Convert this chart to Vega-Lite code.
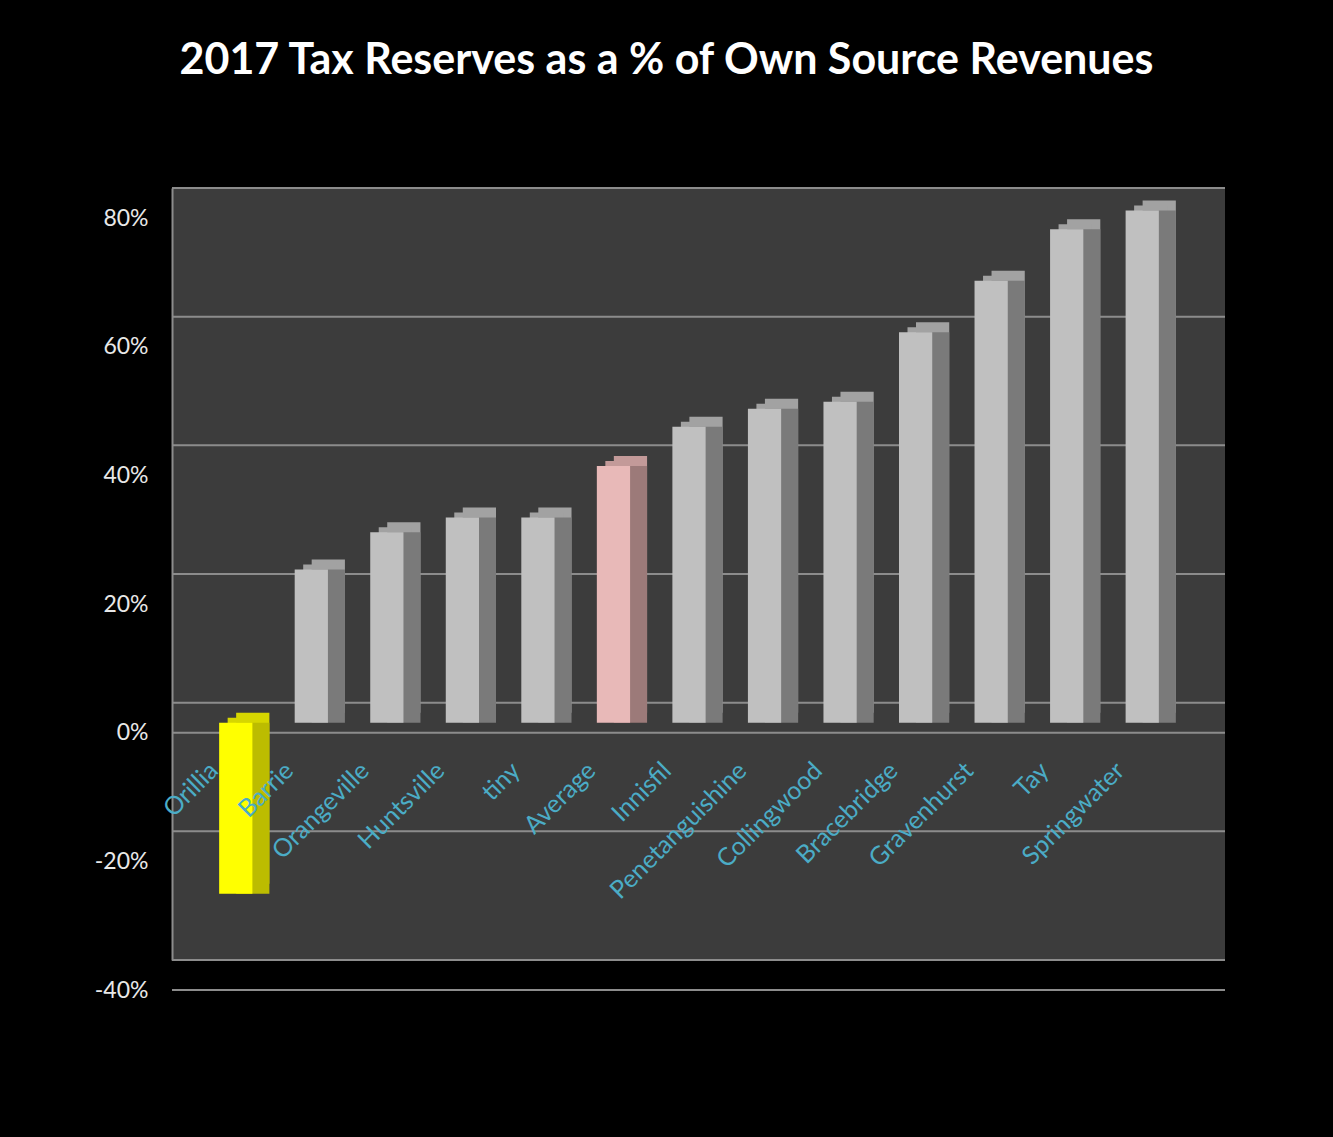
{
  "$schema": "https://vega.github.io/schema/vega-lite/v6.json",
  "autosize": {"type": "none"},
  "padding": {"left": 172, "top": 188, "right": 108, "bottom": 177},
  "width": 1053,
  "height": 772,
  "background": "#000000",
  "title": {
    "text": "2017 Tax Reserves as a % of Own Source Revenues",
    "font": "Lato",
    "fontSize": 43,
    "fontWeight": "bold",
    "color": "#ffffff",
    "anchor": "middle",
    "dx": -32,
    "baseline": "alphabetic",
    "offset": 70
  },
  "config": {"view": {"stroke": null, "fill": "#3c3c3c"}},
  "data": {
    "values": [
      {"municipality": "Orillia", "pct": -26.6, "group": "highlight"},
      {"municipality": "Barrie", "pct": 23.8, "group": "other"},
      {"municipality": "Orangeville", "pct": 29.6, "group": "other"},
      {"municipality": "Huntsville", "pct": 31.9, "group": "other"},
      {"municipality": "tiny", "pct": 31.9, "group": "other"},
      {"municipality": "Average", "pct": 39.9, "group": "average"},
      {"municipality": "Innisfil", "pct": 46.0, "group": "other"},
      {"municipality": "Penetanguishine", "pct": 48.8, "group": "other"},
      {"municipality": "Collingwood", "pct": 49.9, "group": "other"},
      {"municipality": "Bracebridge", "pct": 60.7, "group": "other"},
      {"municipality": "Gravenhurst", "pct": 68.7, "group": "other"},
      {"municipality": "Tay", "pct": 76.7, "group": "other"},
      {"municipality": "Springwater", "pct": 79.6, "group": "other"}
    ]
  },
  "encoding": {
    "y": {
      "field": "pct",
      "type": "quantitative",
      "scale": {"domain": [-40, 80], "nice": false},
      "axis": {
        "title": null,
        "values": [-40, -20, 0, 20, 40, 60, 80],
        "labelExpr": "datum.value + '%'",
        "labelFont": "Lato",
        "labelFontSize": 23,
        "labelColor": "#e8e8e8",
        "labelOffset": 30,
        "labelPadding": 24,
        "ticks": false,
        "domainColor": "#8c8c8c",
        "domainWidth": 2,
        "grid": false
      }
    }
  },
  "layer": [
    {
      "data": {"values": [{"pct": -40}, {"pct": -20}, {"pct": 0}, {"pct": 20}, {"pct": 40}, {"pct": 60}, {"pct": 80}]},
      "mark": {"type": "rule", "color": "#8c8c8c", "strokeWidth": 2},
      "encoding": {}
    },
    {
      "data": {"values": [{"pct": 0}, {"pct": -40}]},
      "mark": {"type": "rule", "color": "#8c8c8c", "strokeWidth": 2, "yOffset": 30},
      "encoding": {}
    },
    {
      "mark": {"type": "bar", "xOffset": 17, "x2Offset": 17, "yOffset": 10, "y2Offset": 10},
      "encoding": {
        "x": {"field": "municipality", "type": "nominal", "sort": null, "axis": null, "scale": {"range": [26, 1008], "paddingInner": 0.56, "paddingOuter": 0.28}},
        "color": {"condition": [{"test": "datum.group === 'highlight'", "value": "#d6d600"}, {"test": "datum.group === 'average'", "value": "#c39a99"}], "value": "#a2a2a2"}
      }
    },
    {
      "mark": {"type": "bar", "xOffset": 8.5, "x2Offset": 8.5, "yOffset": 15, "y2Offset": 15},
      "encoding": {
        "x": {"field": "municipality", "type": "nominal", "sort": null, "axis": null, "scale": {"range": [26, 1008], "paddingInner": 0.56, "paddingOuter": 0.28}},
        "color": {"condition": [{"test": "datum.group === 'highlight'", "value": "#d6d600"}, {"test": "datum.group === 'average'", "value": "#c39a99"}], "value": "#a2a2a2"}
      }
    },
    {
      "mark": {"type": "bar", "xOffset": 17, "x2Offset": 17, "yOffset": 20, "y2Offset": 12},
      "encoding": {
        "x": {"field": "municipality", "type": "nominal", "sort": null, "axis": null, "scale": {"range": [26, 1008], "paddingInner": 0.56, "paddingOuter": 0.28}},
        "color": {"condition": [{"test": "datum.group === 'highlight'", "value": "#bcbc00"}, {"test": "datum.group === 'average'", "value": "#9c7a79"}], "value": "#7a7a7a"}
      }
    },
    {
      "mark": {"type": "bar", "yOffset": 20, "y2Offset": 20},
      "encoding": {
        "x": {"field": "municipality", "type": "nominal", "sort": null, "axis": null, "scale": {"range": [26, 1008], "paddingInner": 0.56, "paddingOuter": 0.28}},
        "color": {"condition": [{"test": "datum.group === 'highlight'", "value": "#ffff00"}, {"test": "datum.group === 'average'", "value": "#e8b9b8"}], "value": "#c0c0c0"}
      }
    },
    {
      "mark": {"type": "text", "angle": -45, "align": "right", "baseline": "middle", "font": "Lato", "fontSize": 25, "color": "#4bacc6", "xOffset": -22, "yOffset": 64},
      "encoding": {
        "x": {"field": "municipality", "type": "nominal", "sort": null, "axis": null, "scale": {"range": [26, 1008], "paddingInner": 0.56, "paddingOuter": 0.28}},
        "y": {"datum": 0},
        "text": {"field": "municipality"}
      }
    }
  ]
}
